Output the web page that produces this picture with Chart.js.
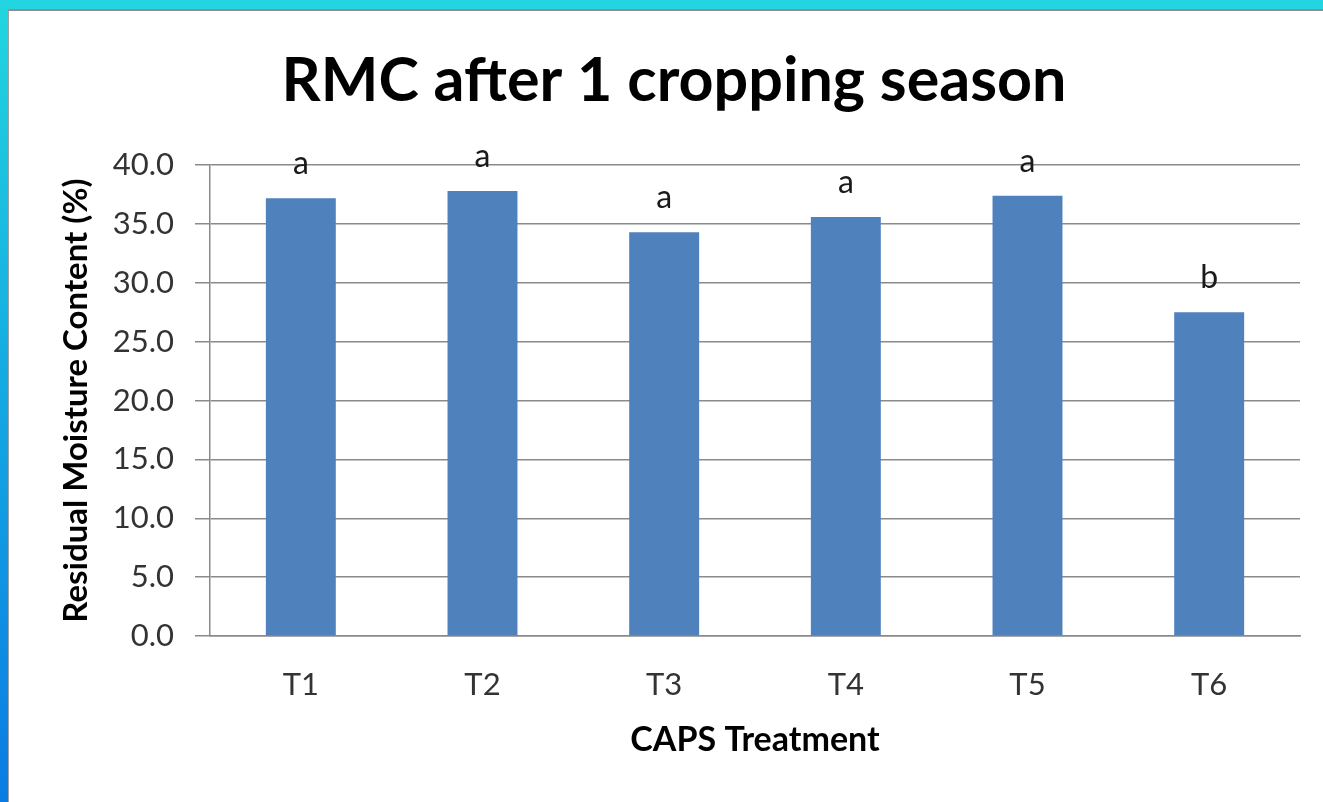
<!DOCTYPE html>
<html>
<head>
<meta charset="utf-8">
<script src="https://cdn.jsdelivr.net/npm/chart.js@4"></script>
<style>
    html, body { margin: 0; padding: 0; width: 1323px; height: 802px; overflow: hidden; }
    .frame { position: absolute; left: 0; top: 0; width: 1323px; height: 802px;
             background: linear-gradient(to bottom, #22d6df 0%, #14a8e2 50%, #0a7be3 100%); }
    .frame::before { content: ''; position: absolute; left: 0; top: 0; right: 0; height: 10px; background: #22d5e0; }
    .panel { position: absolute; left: 8px; top: 9px; right: 0; bottom: 0; background: #fff;
             border-top: 2px solid #8e8e8e; border-left: 1px solid #a0a0a0; }
    #rmcChart { position: absolute; left: 0; top: 0; }
</style>
</head>
<body>
<div class="frame"><div class="panel"></div></div>
<canvas id="rmcChart" width="1323" height="802"></canvas>
<script>
// data
const categories = ['T1', 'T2', 'T3', 'T4', 'T5', 'T6'];
const rmcValues = [37.2, 37.8, 34.3, 35.6, 37.4, 27.5];
const groupLetters = ['a', 'a', 'a', 'a', 'a', 'b'];
const yMin = 0;
const yMax = 40;
const yStep = 5;

const fontFamily = "'Lato', 'Liberation Sans', sans-serif";

// letters (significance groups) above each bar
const letterPlugin = {
    id: 'letters',
    afterDatasetsDraw(chart) {
        const ctx = chart.ctx;
        const meta = chart.getDatasetMeta(0);
        ctx.save();
        ctx.font = '32px ' + fontFamily;
        ctx.fillStyle = '#1a1a1a';
        ctx.textAlign = 'center';
        ctx.textBaseline = 'alphabetic';
        meta.data.forEach((bar, i) => {
            ctx.fillText(groupLetters[i], bar.x, bar.y - 24);
        });
        ctx.restore();
    }
};

new Chart(document.getElementById('rmcChart'), {
    type: 'bar',
    data: {
        labels: categories,
        datasets: [{
            label: 'RMC',
            data: rmcValues,
            backgroundColor: '#4f81bd',
            borderWidth: 0,
            barPercentage: 0.385,
            categoryPercentage: 1
        }]
    },
    plugins: [letterPlugin],
    options: {
        responsive: false,
        animation: false,
        layout: { padding: { left: 48, right: 23, top: 0, bottom: 0 } },
        plugins: {
            legend: { display: false },
            tooltip: { enabled: false },
            title: {
                display: true,
                text: 'RMC after 1 cropping season',
                color: '#000',
                font: { family: fontFamily, size: 61, weight: 'bold', lineHeight: 1.2 },
                padding: { top: 45, bottom: 47 }
            }
        },
        scales: {
            x: {
                grid: { display: false, drawTicks: false },
                border: { display: true, color: '#8a8a8a', width: 1.5 },
                ticks: {
                    color: '#333',
                    padding: 30,
                    font: { family: fontFamily, size: 31 }
                },
                title: {
                    display: true,
                    text: 'CAPS Treatment',
                    color: '#000',
                    font: { family: fontFamily, size: 34, weight: 'bold', lineHeight: 1.2 },
                    padding: { top: 0, bottom: 42 }
                },
                afterFit(scale) { scale.height = 166; }
            },
            y: {
                min: yMin,
                max: yMax,
                grid: { color: '#8a8a8a', lineWidth: 1.5, tickLength: 15, drawTicks: true },
                border: { display: true, color: '#8a8a8a', width: 1.5 },
                ticks: {
                    stepSize: yStep,
                    color: '#333',
                    padding: 21,
                    font: { family: fontFamily, size: 31 },
                    callback: value => value.toFixed(1)
                },
                title: {
                    display: true,
                    text: 'Residual Moisture Content (%)',
                    color: '#000',
                    font: { family: fontFamily, size: 33, weight: 'bold', lineHeight: 1.2 },
                    padding: { top: 9, bottom: 0 }
                },
                afterFit(scale) { scale.width = 162; }
            }
        }
    }
});
</script>
</body>
</html>
